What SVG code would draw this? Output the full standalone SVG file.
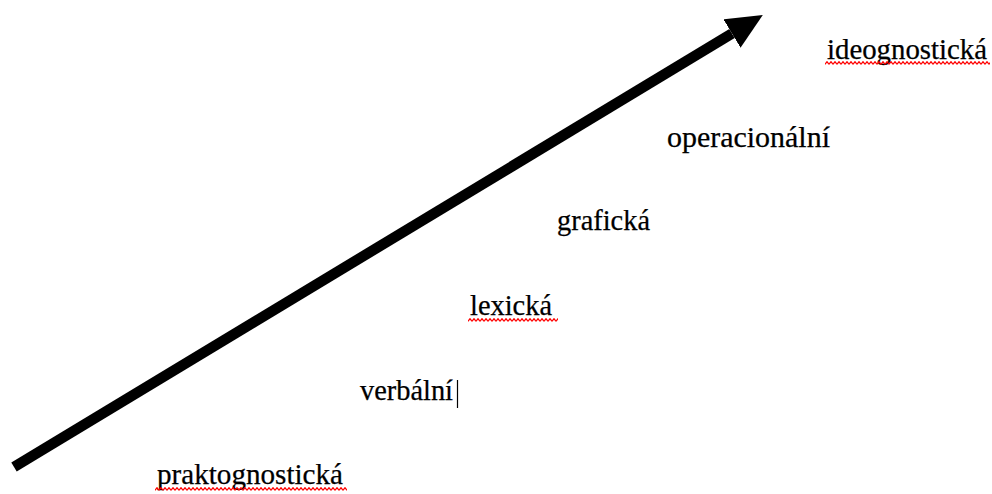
<svg xmlns="http://www.w3.org/2000/svg" width="992" height="494" viewBox="0 0 992 494">
  <defs>
    <style>
      .lbl { font-family: "Liberation Serif", "Times New Roman", serif; font-size: 28.5px; fill: #000; stroke: #000; stroke-width: 0.25; }
      .shaft { stroke: #000; stroke-width: 10.5; fill: none; stroke-linecap: butt; }
    </style>
    <marker id="head" markerUnits="userSpaceOnUse" markerWidth="37" markerHeight="34" refX="0" refY="16.5" orient="auto">
      <path d="M0,0 L36,16.5 L0,33 Z" fill="#000"/>
    </marker>
    <pattern id="sq" patternUnits="userSpaceOnUse" width="4" height="4">
      <path d="M0,3.3 L2,0.7 L4,3.3" fill="none" stroke="#f00" stroke-width="1.2"/>
    </pattern>
  </defs>
  <rect width="992" height="494" fill="#fff"/>

  <g id="connectors">
    <line class="shaft" x1="14" y1="467" x2="732" y2="33.5" marker-end="url(#head)"/>
  </g>

  <g id="node-ideognosticka">
    <text class="lbl" x="827" y="59" textLength="160" lengthAdjust="spacingAndGlyphs">ideognostická</text>
    <rect transform="translate(825,61)" width="165" height="4" fill="url(#sq)"/>
  </g>
  <g id="node-operacionalni">
    <text class="lbl" x="667" y="147" textLength="163" lengthAdjust="spacingAndGlyphs">operacionální</text>
  </g>
  <g id="node-graficka">
    <text class="lbl" x="557" y="230" textLength="93" lengthAdjust="spacingAndGlyphs">grafická</text>
  </g>
  <g id="node-lexicka">
    <text class="lbl" x="470" y="315" textLength="82" lengthAdjust="spacingAndGlyphs">lexická</text>
    <rect transform="translate(468,318)" width="90" height="4" fill="url(#sq)"/>
  </g>
  <g id="node-verbalni">
    <text class="lbl" x="360" y="400" textLength="93" lengthAdjust="spacingAndGlyphs">verbální</text>
    <line x1="457.5" y1="380" x2="457.5" y2="408" stroke="#000" stroke-width="1.2"/>
  </g>
  <g id="node-praktognosticka">
    <text class="lbl" x="157" y="484" textLength="186" lengthAdjust="spacingAndGlyphs">praktognostická</text>
    <rect transform="translate(155,487)" width="192" height="4" fill="url(#sq)"/>
  </g>
</svg>
